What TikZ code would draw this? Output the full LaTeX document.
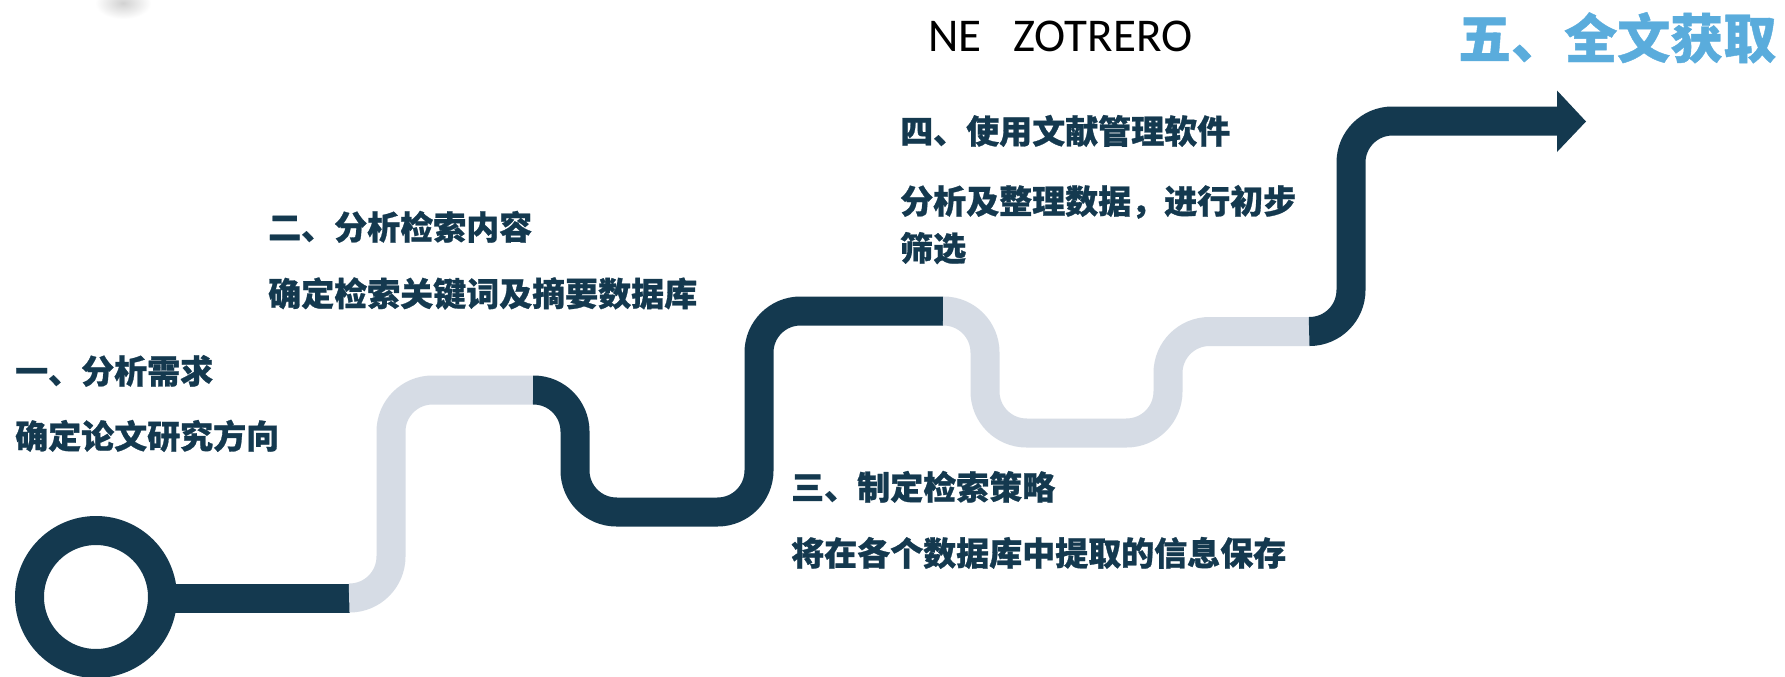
\documentclass[tikz,border=0pt]{standalone}
\usepackage{fontspec}
\setmainfont{Carlito}
\newfontfamily\cjk{Noto Sans CJK SC}[BoldFeatures={FakeBold=0.8}]
\definecolor{navy}{HTML}{14394F}
\definecolor{paleroad}{HTML}{D6DCE5}
\definecolor{titleblue}{HTML}{5AACDC}
\begin{document}
\begin{tikzpicture}[x=1pt,y=-1pt]
\tikzset{
  road/.style={line width=29pt, rounded corners=41.5pt},
  darkroad/.style={road, draw=navy},
  lightroad/.style={road, draw=paleroad},
  lbl/.style={anchor=west, inner sep=0pt, text=navy,
    font=\cjk\bfseries\fontsize{33}{40}\selectfont,
    text height=27.4pt, text depth=2.3pt},
}
\useasboundingbox[fill=white] (0,0) rectangle (1785,677);
% faint shadow blob at the top
\shade[inner color=black!18, outer color=white] (123,3) ellipse [x radius=28, y radius=16];
% start ring
\draw[line width=29pt, navy] (96,597) circle[radius=66.5];
% road
\draw[line width=29pt, navy] (170,598) -- (350,598);
\draw[lightroad] (350,598) -- (391,598) -- (391,390) -- (533,390);
\draw[darkroad] (533,390) -- (575,390) -- (575,512) -- (759,512) -- (759,311) -- (943,311);
\draw[lightroad] (943,311) -- (985,311) -- (985,433) -- (1168,433) -- (1168,331.5) -- (1310,331.5);
\draw[darkroad] (1310,331.5) -- (1351,331.5) -- (1351,121) -- (1558,121);
\fill[navy] (1557,90.5) -- (1586,121.5) -- (1557,152) -- cycle;
% texts
\node[lbl] (s1) at (15,371) {一、分析需求};
\node[lbl] (d1) at (15,436) {确定论文研究方向};
\node[lbl] (s2) at (268,227) {二、分析检索内容};
\node[lbl] (d2) at (268,293.5) {确定检索关键词及摘要数据库};
\node[lbl] (s3) at (791,487) {三、制定检索策略};
\node[lbl] (d3) at (791,553) {将在各个数据库中提取的信息保存};
\node[lbl] (s4) at (900,131) {四、使用文献管理软件};
\node[lbl] (d4a) at (900,201) {分析及整理数据，进行初步};
\node[lbl] (d4b) at (900,248) {筛选};
\node[anchor=west, inner sep=0pt, font=\fontsize{47}{56}\selectfont] (ne) at (928,36.5) {NE\ \ \ ZOTRERO};
\node[anchor=west, inner sep=0pt, text=titleblue, font=\cjk\bfseries\fontsize{53}{64}\selectfont,
  text height=44pt, text depth=3.7pt] (s5) at (1458,38) {五、全文获取};
\end{tikzpicture}
\end{document}
